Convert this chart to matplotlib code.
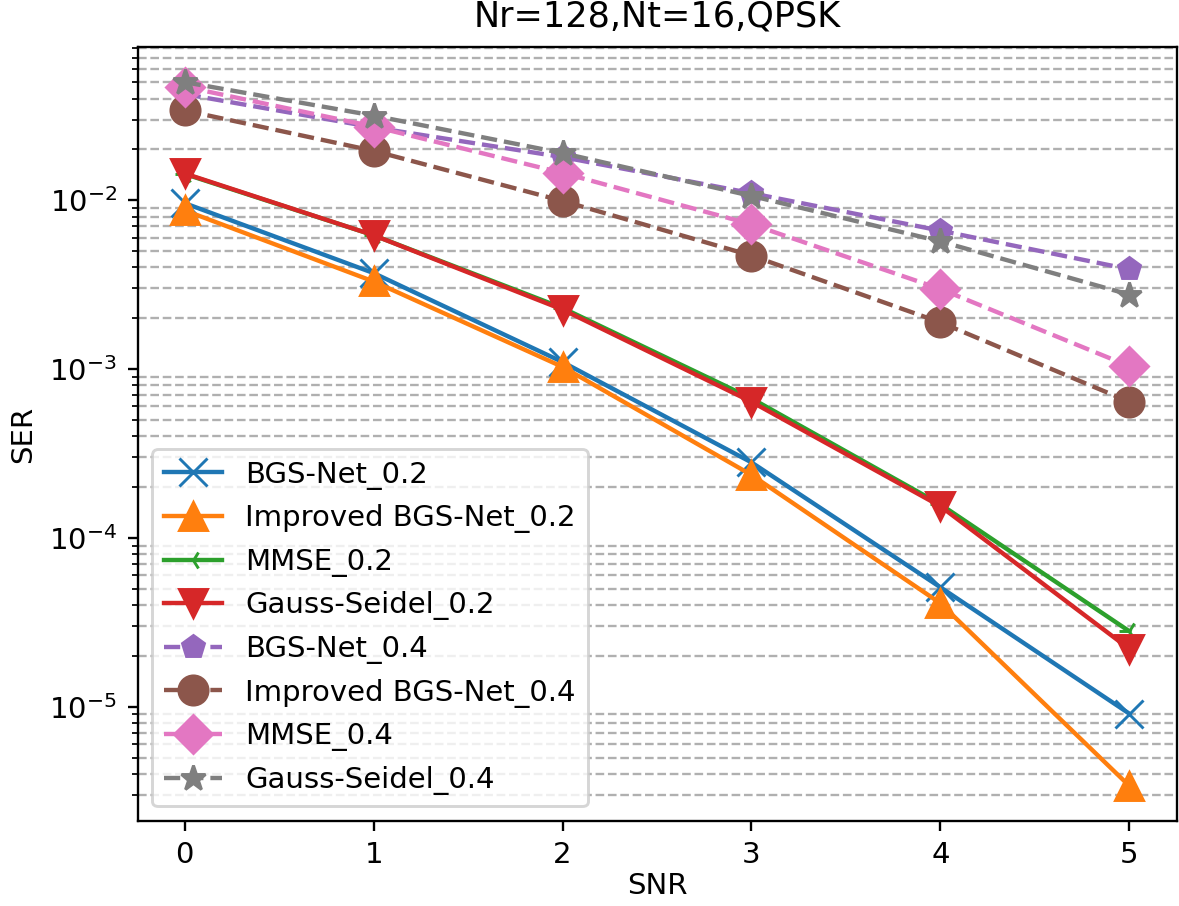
import matplotlib
matplotlib.use("Agg")
import matplotlib.pyplot as plt

snr = [0, 1, 2, 3, 4, 5]

bgs_02 = [9.6e-3, 3.7e-3, 1.1e-3, 2.8e-4, 5.1e-5, 9.1e-6]
imp_02 = [8.7e-3, 3.3e-3, 1.03e-3, 2.36e-4, 4.1e-5, 3.4e-6]
mmse_02 = [1.43e-2, 6.2e-3, 2.3e-3, 6.7e-4, 1.58e-4, 2.8e-5]
gs_02 = [1.44e-2, 6.2e-3, 2.25e-3, 6.4e-4, 1.54e-4, 2.2e-5]
bgs_04 = [4.25e-2, 2.7e-2, 1.8e-2, 1.1e-2, 6.6e-3, 3.9e-3]
imp_04 = [3.4e-2, 1.96e-2, 9.9e-3, 4.7e-3, 1.89e-3, 6.4e-4]
mmse_04 = [4.7e-2, 2.73e-2, 1.45e-2, 7.2e-3, 2.98e-3, 1.04e-3]
gs_04 = [5.0e-2, 3.17e-2, 1.9e-2, 1.06e-2, 5.7e-3, 2.76e-3]

fig = plt.figure(figsize=(1179 / 210, 906 / 210), dpi=210)
ax = fig.add_axes([137.5 / 1179, 85 / 906, 1039 / 1179, 774 / 906])

# 0.2 curves (solid)
ax.semilogy(snr, bgs_02, marker='x', markersize=9.5, label='BGS-Net_0.2')
ax.semilogy(snr, imp_02, marker='^', markersize=9.5, label='Improved BGS-Net_0.2')
ax.semilogy(snr, mmse_02, marker='3', markersize=7, label='MMSE_0.2')
ax.semilogy(snr, gs_02, marker='v', markersize=9.5, label='Gauss-Seidel_0.2')

# 0.4 curves (dashed)
ax.semilogy(snr, bgs_04, '--', marker='p', markersize=8, label='BGS-Net_0.4')
ax.semilogy(snr, imp_04, '--', marker='o', markersize=10, label='Improved BGS-Net_0.4')
ax.semilogy(snr, mmse_04, '--', marker='D', markersize=9, label='MMSE_0.4')
ax.semilogy(snr, gs_04, '--', marker='*', markersize=9, label='Gauss-Seidel_0.4')

ax.grid(True, which='minor', linestyle='--')
ax.set_title("Nr=128,Nt=16,QPSK", pad=7)
ax.set_xlabel("SNR", labelpad=1)
ax.set_ylabel("SER")
ax.legend(loc='lower left')

fig.savefig("out.png", dpi=210)
